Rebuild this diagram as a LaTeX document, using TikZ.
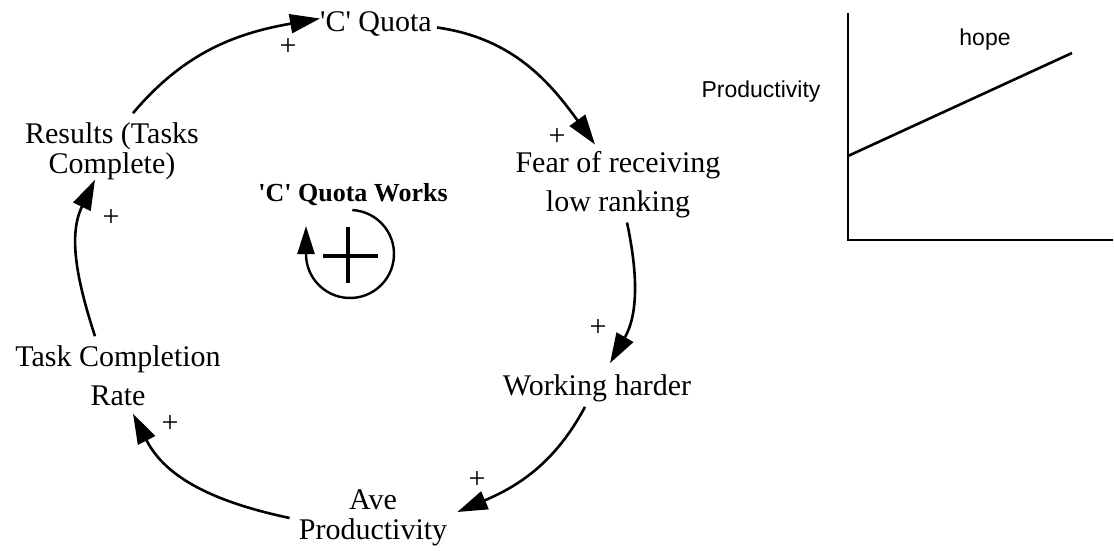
\documentclass[tikz,border=0pt]{standalone}
\usepackage{fontspec}
\setmainfont{Liberation Serif}
\setsansfont{Liberation Sans}
\usetikzlibrary{arrows.meta,positioning}

\tikzset{
 var/.style={align=center,inner sep=0pt,font=\fontsize{30}{39}\selectfont},
 tightvar/.style={align=center,inner sep=0pt,font=\fontsize{30}{30}\selectfont},
 link/.style={line width=2.6pt,-{Triangle[length=30pt,width=19pt]}},
 polarity/.style={inner sep=0pt,font=\fontsize{30}{30}\selectfont},
 chartline/.style={line width=2.6pt},
 chartlabel/.style={inner sep=0pt,font=\sffamily\fontsize{23}{23}\selectfont},
}
\newcommand{\sq}{\textquotesingle}

\begin{document}
\begin{tikzpicture}[x=1pt,y=1pt]
\useasboundingbox (0,0) rectangle (1114,550);
% variables of the loop
\node[var] (quota) at (376,525.5) {\sq C\sq{} Quota};
\node[var] (fear) at (618,365) {Fear of receiving\\low ranking};
\node[var] (working) at (597,162) {Working harder};
\node[tightvar] (ave) at (373,32) {Ave\\Productivity};
\node[var] (taskrate) at (118,174.5) {Task Completion\\Rate};
\node[tightvar] (results) at (112,399) {Results (Tasks\\Complete)};
% causal links
\draw[link] ([xshift=21pt,yshift=9pt]results.north) to[out=50,in=190] ([yshift=6pt]quota.west);
\draw[link] ([xshift=5pt,yshift=-3pt]quota.east) to[out=-8,in=126] ([xshift=-23pt,yshift=7pt]fear.north);
\draw[link] ([xshift=9pt,yshift=-4pt]fear.south) to[out=-78,in=60] ([xshift=13pt,yshift=11pt]working.north);
\draw[link] ([xshift=-12pt,yshift=-5pt]working.south) to[out=-118,in=23] ([xshift=10pt,yshift=6pt]ave.east);
\draw[link] ([xshift=-9pt]ave.west) to[out=168,in=-63] ([xshift=15pt,yshift=-8pt]taskrate.south);
\draw[link] ([xshift=-23pt,yshift=9pt]taskrate.north) to[out=108,in=-116] ([xshift=-17pt]results.south);
\foreach \px/\py [count=\i] in {288/503,557/413,598/222,477/70,170/126,111/332}
 \node[polarity] (plus\i) at (\px,\py) {+};
% loop marker
\node[inner sep=0pt,font=\bfseries\fontsize{26}{26}\selectfont] (loopname) at (353,355) {\sq C\sq{} Quota Works};
\coordinate (loop) at (350,296);
\draw[line width=2.4pt,-{Triangle[length=28pt,width=17pt]}] ([shift={(87:44)}]loop)
 arc[start angle=87,end angle=-180,radius=44] -- ++(0,28);
\draw[line width=4pt] (323,294) -- (378,294) (348,323) -- (348,267);
% small chart
\coordinate (origin) at (848,310);
\draw[chartline] (848,537) -- (origin) -- (1113,310);
\draw[chartline] (848,394) -- (1072,497);
\node[chartlabel] (hope) at (985,510) {hope};
\node[chartlabel] (prod) at (761,458) {Productivity};
\end{tikzpicture}
\end{document}
